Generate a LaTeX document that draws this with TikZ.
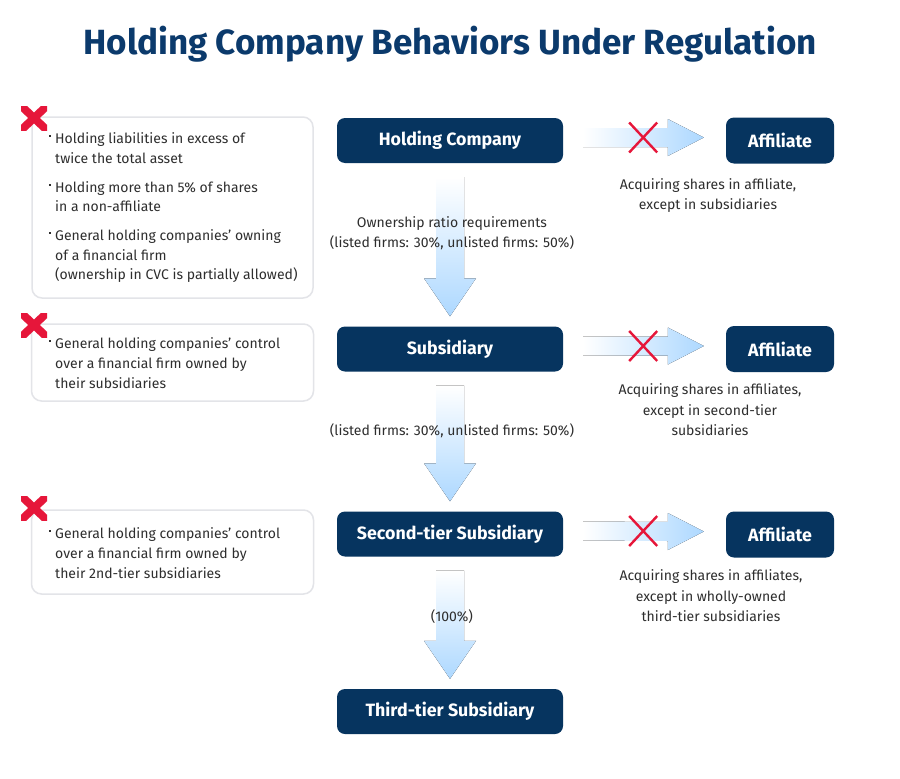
\documentclass[tikz,border=0pt]{standalone}
\usepackage{fontspec}
\setmainfont{Fira Sans}
\usetikzlibrary{calc}
\definecolor{navy}{HTML}{06345F}
\definecolor{titlec}{HTML}{0B3A6C}
\definecolor{txt}{HTML}{2E2E2E}
\definecolor{xred}{HTML}{E6163A}
\definecolor{ablue}{HTML}{ADD8FF}
\definecolor{bord}{HTML}{E3E4E8}
\newcommand{\varrowx}[2]{%
  \fill[top color=white, bottom color=ablue]
    ($(#1.south)+(-14,14)$) -- ($(#1.south)+(14,14)$) -- ($(#2.north)+(14,-48)$)
    -- ($(#2.north)+(26,-48)$) -- ($(#2.north)+(0,-10)$) -- ($(#2.north)+(-26,-48)$)
    -- ($(#2.north)+(-14,-48)$) -- cycle;}
\newcommand{\harrowx}[2]{%
  \fill[left color=white, right color=ablue]
    ($(#1.east)+(20,-12.5)$) -- ($(#2.west)+(-58,-12.5)$) -- ($(#2.west)+(-58,-21.5)$)
    -- ($(#2.west)+(-22,-3)$) -- ($(#2.west)+(-58,15.5)$) -- ($(#2.west)+(-58,6.5)$)
    -- ($(#1.east)+(20,6.5)$) -- cycle;
  \draw[xred, line width=2.4pt] ($(#1.east)+(66,-18)$) -- ($(#1.east)+(94,12)$)
    ($(#1.east)+(66,12)$) -- ($(#1.east)+(94,-18)$);}
\newcommand{\bigx}[2]{%
  \begin{scope}
  \clip (#1,#2) rectangle ++(26,24);
  \draw[xred, line width=8pt] (#1-4,#2-4) -- ++(34,32) (#1+30,#2-4) -- ++(-34,32);
  \end{scope}}
\begin{document}
\begin{tikzpicture}[x=1pt,y=-1pt,
 mainbox/.style={fill=navy, rounded corners=8pt, minimum width=226pt, minimum height=45pt,
   text=white, font=\fontsize{17.8}{20}\selectfont\bfseries, inner sep=0pt},
 affbox/.style={mainbox, minimum width=108pt, minimum height=46pt},
 sidebox/.style={draw=bord, line width=1.5pt, rounded corners=10pt, fill=white, inner sep=0pt},
 lbl/.style={text=txt, font=\fontsize{14}{20.5}\selectfont, align=center, inner sep=0pt},
 itm/.style={text=txt, font=\fontsize{14}{20}\selectfont, inner sep=0pt, anchor=base west},
 bul/.style={fill=txt, minimum size=2.6pt, inner sep=0pt},
]
\fill[white] (0,0) rectangle (900,779);
\useasboundingbox (0,0) rectangle (900,779);

\node[text=titlec, font=\fontsize{35}{40}\selectfont\bfseries, inner sep=0pt] (title) at (450,44) {Holding Company Behaviors Under Regulation};

% main column
\node[mainbox] (hc) at (450,140.5) {Holding Company};
\node[mainbox] (sub) at (450,349) {Subsidiary};
\node[mainbox] (sec) at (450,534) {Second-tier Subsidiary};
\node[mainbox] (third) at (450,711.5) {Third-tier Subsidiary};

\node[affbox] (aff1) at (780,140.5) {Affiliate};
\node[affbox] (aff2) at (780,349) {Affiliate};
\node[affbox] (aff3) at (780,534.5) {Affiliate};

\varrowx{hc}{sub}
\varrowx{sub}{sec}
\varrowx{sec}{third}
\harrowx{hc}{aff1}
\harrowx{sub}{aff2}
\harrowx{sec}{aff3}

\node[lbl] (r1) at (452,233) {Ownership ratio requirements\\(listed firms: 30\%, unlisted firms: 50\%)};
\node[lbl] (r2) at (452,431) {(listed firms: 30\%, unlisted firms: 50\%)};
\node[lbl] (r3) at (452,617) {(100\%)};

\node[lbl] (c1) at (708,195.5) {Acquiring shares in affiliate,\\except in subsidiaries};
\node[lbl] (c2) at (710,410) {Acquiring shares in affiliates,\\except in second-tier\\subsidiaries};
\node[lbl] (c3) at (711,596) {Acquiring shares in affiliates,\\except in wholly-owned\\third-tier subsidiaries};

% left boxes
\node[sidebox, minimum width=281pt, minimum height=181pt] (lb1) at (172.5,207.5) {};
\node[sidebox, minimum width=282pt, minimum height=77pt] (lb2) at (172.5,362.5) {};
\node[sidebox, minimum width=282pt, minimum height=84pt] (lb3) at (172.5,552) {};

\bigx{21}{106}
\bigx{21}{313}
\bigx{21}{496}

\node[bul] (b1) at (50,136) {};
\node[itm] (t1a) at (55,143) {Holding liabilities in excess of};
\node[itm] (t1b) at (55,163) {twice the total asset};
\node[bul] (b2) at (50,185) {};
\node[itm] (t2a) at (55,192) {Holding more than 5\% of shares};
\node[itm] (t2b) at (55,211.5) {in a non-affiliate};
\node[bul] (b3) at (50,233) {};
\node[itm] (t3a) at (55,240) {General holding companies’ owning};
\node[itm] (t3b) at (55,260) {of a financial firm};
\node[itm] (t3c) at (55,279.5) {(ownership in CVC is partially allowed)};

\node[bul] (b4) at (50,341) {};
\node[itm] (t4a) at (55,348) {General holding companies’ control};
\node[itm] (t4b) at (55,368) {over a financial firm owned by};
\node[itm] (t4c) at (55,388) {their subsidiaries};

\node[bul] (b5) at (50,531) {};
\node[itm] (t5a) at (55,538) {General holding companies’ control};
\node[itm] (t5b) at (55,558) {over a financial firm owned by};
\node[itm] (t5c) at (55,578) {their 2nd-tier subsidiaries};
\end{tikzpicture}
\end{document}
